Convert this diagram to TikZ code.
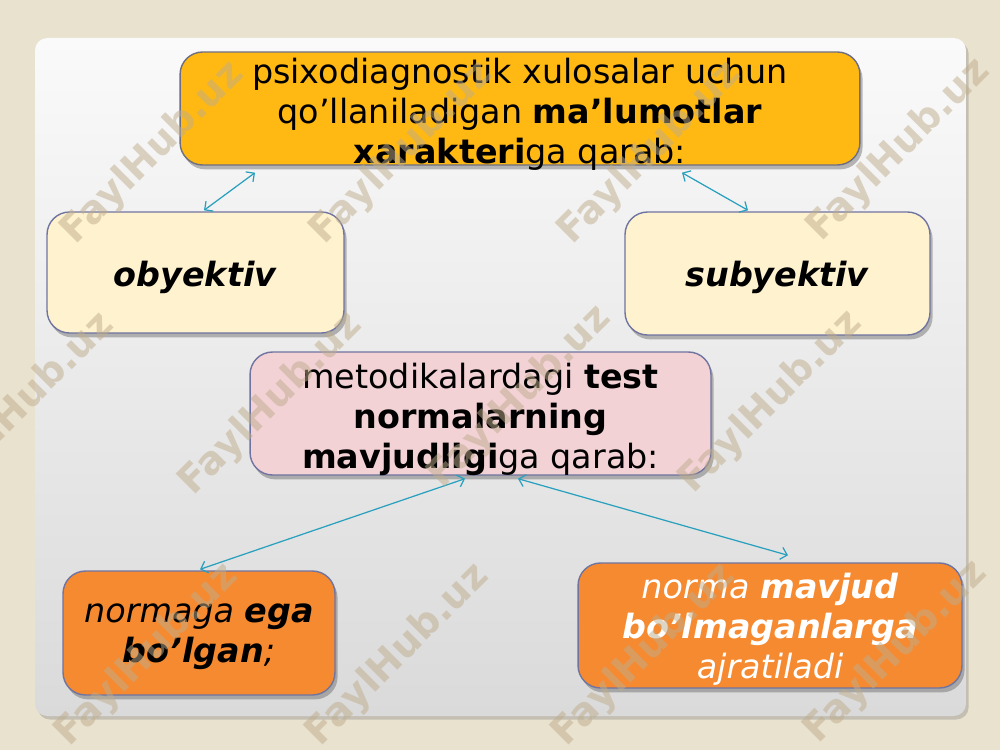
\documentclass[tikz,border=0pt]{standalone}
\usepackage{fontspec}
\setmainfont{DejaVu Sans}
\usetikzlibrary{shadows,arrows.meta,calc}
\definecolor{bgbeige}{RGB}{233,226,206}
\definecolor{paneltop}{RGB}{250,250,250}
\definecolor{panelbot}{RGB}{218,218,218}
\definecolor{topfill}{RGB}{255,185,18}
\definecolor{creamfill}{RGB}{255,242,206}
\definecolor{pinkfill}{RGB}{243,210,214}
\definecolor{orangefill}{RGB}{246,138,48}
\definecolor{boxline}{RGB}{112,116,160}
\definecolor{topline}{RGB}{110,110,130}
\definecolor{arrowteal}{RGB}{40,160,190}
\definecolor{wmcolor}{RGB}{190,172,140}
\tikzset{
  box/.style={draw=boxline, line width=0.8pt, rounded corners=0.45cm, inner sep=0pt,
    drop shadow={shadow xshift=1.5pt, shadow yshift=-2.5pt, opacity=0.45, fill=black!60}},
  txt/.style={align=center, inner sep=0pt, font=\fontsize{19}{22.8}\selectfont},
  link/.style={draw=arrowteal, line width=0.7pt, {Straight Barb[length=3.5pt,width=7pt]}-{Straight Barb[length=3.5pt,width=7pt]}},
  wm/.style={rotate=45, font=\bfseries\fontsize{22}{22}\selectfont, text=wmcolor, opacity=0.5, inner sep=0pt}
}
\begin{document}
\begin{tikzpicture}[x=0.02cm,y=-0.02cm]
\fill[bgbeige] (0,0) rectangle (1000,750);
\useasboundingbox (0,0) rectangle (1000,750);
% panel
\path[top color=paneltop, bottom color=panelbot, rounded corners=7pt,
  drop shadow={shadow xshift=1.5pt, shadow yshift=-2pt, opacity=0.35, fill=black!50}]
  (35,38) rectangle (966,716);
% boxes
\node[box, draw=topline, fill=topfill, minimum width=13.6cm, minimum height=2.26cm] (top) at (520,108.5) {};
\node[box, fill=creamfill, minimum width=5.94cm, minimum height=2.42cm] (obj) at (195.5,272.5) {};
\node[box, fill=creamfill, minimum width=6.1cm, minimum height=2.46cm] (sub) at (777.5,273.5) {};
\node[box, fill=pinkfill, minimum width=9.22cm, minimum height=2.46cm] (met) at (480.5,413.5) {};
\node[box, fill=orangefill, minimum width=5.44cm, minimum height=2.48cm] (nor1) at (199,633) {};
\node[box, fill=orangefill, minimum width=7.68cm, minimum height=2.5cm] (nor2) at (770,625.5) {};
% texts
\node[txt] (toptext) at ($(top.center)+(0,5.5)$)
  {psixodiagnostik xulosalar uchun\\qo’llaniladigan \textbf{ma’lumotlar}\\\textbf{xarakteri}ga qarab:};
\node[txt] (objtext) at ($(obj.center)+(0,5)$) {\textbf{\textit{obyektiv}}};
\node[txt] (subtext) at ($(sub.center)+(0,4)$) {\textbf{\textit{subyektiv}}};
\node[txt] (mettext) at ($(met.center)+(0,5.5)$)
  {metodikalardagi \textbf{test}\\\textbf{normalarning}\\\textbf{mavjudligi}ga qarab:};
\node[txt] (nor1text) at ($(nor1.center)+(0,4)$)
  {\textit{normaga \textbf{ega}}\\\textit{\textbf{bo’lgan};}};
\node[txt, text=white] (nor2text) at ($(nor2.center)+(0,4)$)
  {\textit{norma \textbf{mavjud}}\\\textit{\textbf{bo’lmaganlarga}}\\\textit{ajratiladi}};
% connectors
\draw[link] ($(top.south)+(-265,7)$) -- ($(obj.north)+(8.5,-1)$);
\draw[link] ($(top.south)+(162,7)$) -- ($(sub.north)+(-29.5,-1)$);
\draw[link] ($(met.south)+(-15.5,3)$) -- ($(nor1.north)+(1,-1)$);
\draw[link] ($(met.south)+(37.5,3)$) -- ($(nor2.north)+(18,-7)$);
% watermarks
\node[wm] (w1) at (153,153) {FaylHub.uz};
\node[wm] (w2) at (402,153) {FaylHub.uz};
\node[wm] (w3) at (650,153) {FaylHub.uz};
\node[wm] (w4) at (899,150) {FaylHub.uz};
\node[wm] (w5) at (23,404) {FaylHub.uz};
\node[wm] (w6) at (271,404) {FaylHub.uz};
\node[wm] (w7) at (520,397) {FaylHub.uz};
\node[wm] (w8) at (771,402) {FaylHub.uz};
\node[wm] (w9) at (147,655) {FaylHub.uz};
\node[wm] (w10) at (398,655) {FaylHub.uz};
\node[wm] (w11) at (644,655) {FaylHub.uz};
\node[wm] (w12) at (896,652) {FaylHub.uz};
\end{tikzpicture}
\end{document}
